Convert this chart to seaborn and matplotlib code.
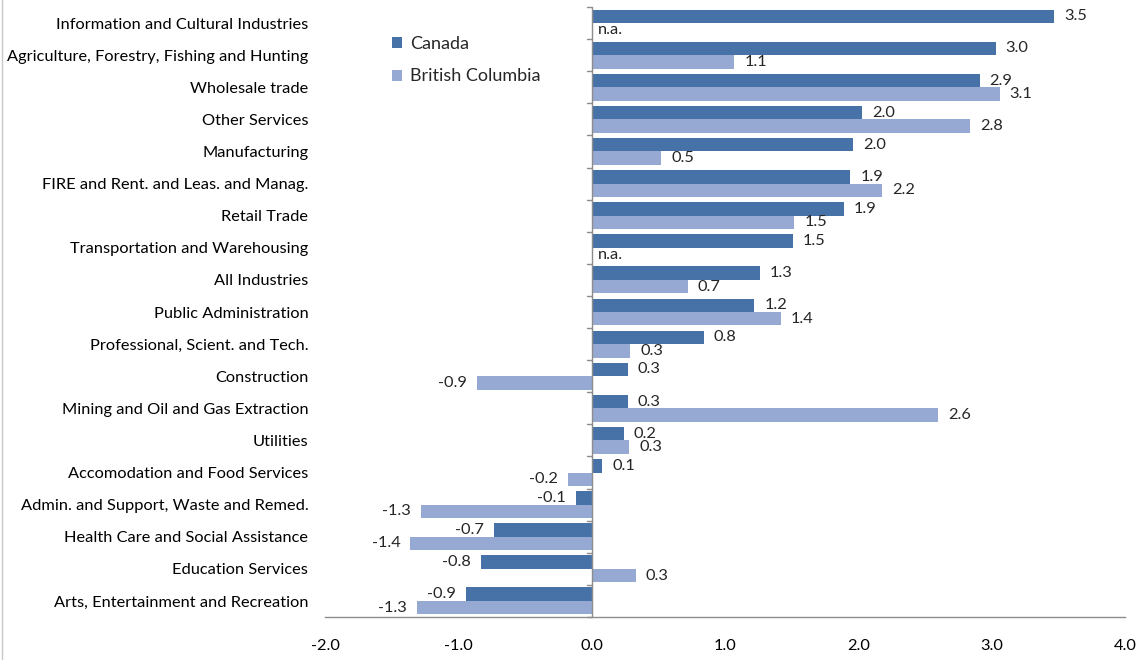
import numpy as np
import pandas as pd
import matplotlib
matplotlib.use("Agg")
import matplotlib.pyplot as plt
from matplotlib.lines import Line2D
import seaborn as sns

industries = [
    "Information and Cultural Industries",
    "Agriculture, Forestry, Fishing and Hunting",
    "Wholesale trade",
    "Other Services",
    "Manufacturing",
    "FIRE and Rent. and Leas. and Manag.",
    "Retail Trade",
    "Transportation and Warehousing",
    "All Industries",
    "Public Administration",
    "Professional, Scient. and Tech.",
    "Construction",
    "Mining and Oil and Gas Extraction",
    "Utilities",
    "Accomodation and Food Services",
    "Admin. and Support, Waste and Remed.",
    "Health Care and Social Assistance",
    "Education Services",
    "Arts, Entertainment and Recreation",
]
canada = [3.47, 3.03, 2.91, 2.03, 1.96, 1.94, 1.89, 1.51, 1.26, 1.22, 0.84,
          0.27, 0.27, 0.24, 0.08, -0.12, -0.73, -0.83, -0.94]
bc = [np.nan, 1.07, 3.06, 2.84, 0.52, 2.18, 1.52, np.nan, 0.72, 1.42, 0.29,
      -0.86, 2.60, 0.28, -0.18, -1.28, -1.36, 0.33, -1.31]
series = ["Canada", "British Columbia"]
xticks = [-2.0, -1.0, 0.0, 1.0, 2.0, 3.0, 4.0]

colors = ["#4672A8", "#95A9D3"]
axis_gray = "#8C8C8C"

sns.set_theme(style="white")
plt.rcParams["font.family"] = ["Lato", "DejaVu Sans"]

df = pd.DataFrame({
    "industry": industries * 2,
    "value": canada + bc,
    "region": [series[0]] * len(industries) + [series[1]] * len(industries),
})

W, H = 1146, 660
fig = plt.figure(figsize=(W / 100, H / 100), dpi=100)
ax_left, ax_right, ax_top, ax_bottom = 325, 1125, 7, 617
ax = fig.add_axes([ax_left / W, 1 - ax_bottom / H,
                   (ax_right - ax_left) / W, (ax_bottom - ax_top) / H])

width = 0.84
sns.barplot(data=df, y="industry", x="value", hue="region", order=industries,
            hue_order=series, palette=colors, orient="h", width=width,
            saturation=1, linewidth=0, ax=ax)

ax.set_xlim(-2.0, 4.0)
ax.set_ylim(len(industries) - 0.5, -0.5)
ax.set_xticks(xticks)
ax.set_xticklabels([f"{t:.1f}" for t in xticks], fontsize=11.8, color="#000000")
ax.set_xlabel("")
ax.set_ylabel("")
ax.tick_params(axis="x", direction="out", length=4, width=1, color=axis_gray, pad=12)
ax.tick_params(axis="y", length=0, pad=12, labelsize=11.8, labelcolor="#000000")

for s in ["left", "top", "right"]:
    ax.spines[s].set_visible(False)
ax.spines["bottom"].set_color(axis_gray)
ax.spines["bottom"].set_linewidth(1)

# category axis crossing at zero
ax.axvline(0, color=axis_gray, lw=1, zorder=3)
for b in np.arange(len(industries) + 1) - 0.5:
    ax.plot([-0.035, 0], [b, b], color=axis_gray, lw=1, zorder=3, clip_on=False)

# data labels
vals = [canada, bc]
for k, vlist in enumerate(vals):
    for i, v in enumerate(vlist):
        yc = i - width / 4 if k == 0 else i + width / 4
        if np.isnan(v):
            ax.text(0.045, yc, "n.a.", ha="left", va="center", fontsize=11.8)
        elif v >= 0:
            ax.text(v + 0.075, yc, f"{v:.1f}", ha="left", va="center", fontsize=11.8)
        else:
            ax.text(v - 0.075, yc, f"{v:.1f}", ha="right", va="center", fontsize=11.8)

# legend
leg = ax.legend(loc="upper left", bbox_to_anchor=(60 / 800, 1 - 22 / 610),
                frameon=False, fontsize=13, handlelength=0.55, handleheight=0.55,
                handletextpad=0.45, labelspacing=0.9, borderaxespad=0)

# left border of chart area
fig.add_artist(Line2D([1.5 / W, 1.5 / W], [0, 1], transform=fig.transFigure,
                      color="#C8C8C8", lw=1))

fig.savefig("out.png", dpi=100)
